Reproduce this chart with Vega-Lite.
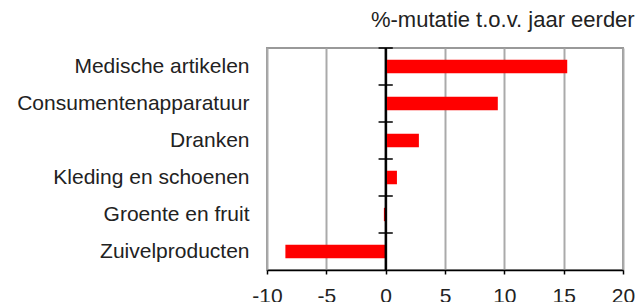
{
  "$schema": "https://vega.github.io/schema/vega-lite/v6.json",
  "autosize": "none",
  "width": 356,
  "height": 222,
  "padding": {"left": 267, "top": 48, "right": 13, "bottom": 32},
  "background": "white",
  "title": {
    "text": "%-mutatie t.o.v. jaar eerder",
    "anchor": "end",
    "orient": "top",
    "fontSize": 22,
    "fontWeight": "normal",
    "font": "Liberation Sans",
    "color": "#222222",
    "offset": 15
  },
  "data": {
    "values": [
      {"cat": "Medische artikelen", "value": 15.3},
      {"cat": "Consumentenapparatuur", "value": 9.45},
      {"cat": "Dranken", "value": 2.8},
      {"cat": "Kleding en schoenen", "value": 0.95},
      {"cat": "Groente en fruit", "value": -0.15},
      {"cat": "Zuivelproducten", "value": -8.45}
    ]
  },
  "encoding": {
    "y": {
      "field": "cat",
      "type": "nominal",
      "sort": null,
      "scale": {"paddingInner": 0, "paddingOuter": 0},
      "axis": {
        "title": null,
        "domain": false,
        "ticks": false,
        "grid": false,
        "labelPadding": 18,
        "labelLimit": 400,
        "labelFontSize": 21,
        "labelColor": "#222222",
        "labelFont": "Liberation Sans"
      }
    }
  },
  "layer": [
    {
      "mark": {"type": "bar", "color": "#ff0000", "height": {"band": 0.36}},
      "encoding": {
        "x": {
          "field": "value",
          "type": "quantitative",
          "scale": {"domain": [-10, 20], "nice": false},
          "axis": {
            "title": null,
            "values": [-10, -5, 0, 5, 10, 15, 20],
            "labelExpr": "'' + datum.value",
            "grid": true,
            "gridColor": "#aaaaaa",
            "gridWidth": 2,
            "domainColor": "#000000",
            "domainWidth": 1.5,
            "tickColor": "#000000",
            "tickWidth": 1.5,
            "tickSize": 4,
            "labelFontSize": 21,
            "labelColor": "#222222",
            "labelFont": "Liberation Sans",
            "labelPadding": 11,
            "labelFlush": false
          }
        }
      }
    },
    {
      "mark": {"type": "rule", "color": "#000000", "strokeWidth": 1.5},
      "encoding": {
        "x": {"datum": 0, "type": "quantitative"},
        "y": null
      }
    },
    {
      "mark": {"type": "rule", "color": "#000000", "strokeWidth": 1.5},
      "encoding": {
        "x": {"datum": -0.6, "type": "quantitative"},
        "x2": {"datum": 0.6},
        "y": {"field": "cat", "type": "nominal", "sort": null, "bandPosition": 0}
      }
    }
  ],
  "config": {
    "view": {"stroke": "#999999", "strokeWidth": 2},
    "font": "Liberation Sans"
  }
}
